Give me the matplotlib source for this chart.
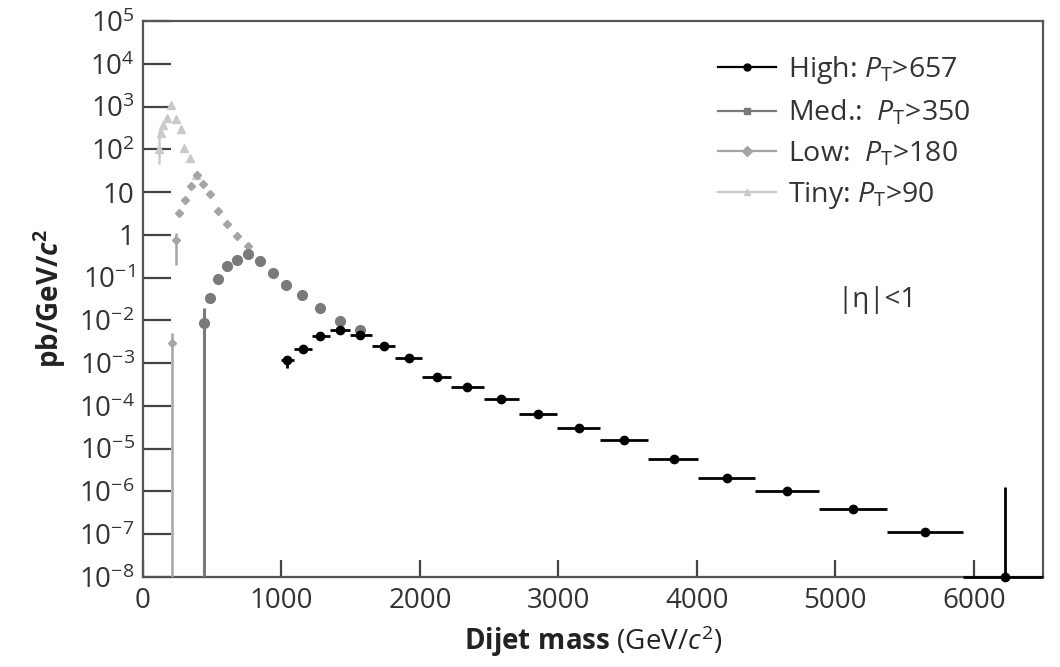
import matplotlib
matplotlib.use("Agg")
import matplotlib.pyplot as plt
from matplotlib.lines import Line2D
import numpy as np

plt.rcParams['font.family'] = ['Open Sans', 'DejaVu Sans']
plt.rcParams['mathtext.fontset'] = 'custom'
plt.rcParams['mathtext.rm'] = 'Open Sans'
plt.rcParams['mathtext.it'] = 'Open Sans:italic'
plt.rcParams['mathtext.bf'] = 'Open Sans:bold'
plt.rcParams['mathtext.bfit'] = 'Open Sans:italic:bold'

# ---- data ----
high_mass = [1040, 1155, 1281, 1421, 1570, 1739, 1920, 2125, 2342, 2588, 2853, 3150, 3471, 3832, 4219, 4650, 5127, 5646, 6225]
high_lo = [1000, 1090, 1220, 1350, 1498, 1654, 1823, 2016, 2228, 2462, 2715, 2993, 3299, 3645, 4010, 4423, 4879, 5374, 5919]
high_hi = [1090, 1220, 1350, 1498, 1654, 1823, 2016, 2228, 2462, 2715, 2993, 3299, 3645, 4010, 4423, 4879, 5374, 5919, 6500]
high_val = [1.2e-3, 2.2e-3, 4.4e-3, 6.0e-3, 4.6e-3, 2.5e-3, 1.35e-3, 4.8e-4, 2.7e-4, 1.45e-4, 6.5e-5, 3.0e-5, 1.6e-5,
            5.7e-6, 2.07e-6, 1.0e-6, 3.8e-7, 1.15e-7, 1.0e-8]
high_err_dn = [4.2e-4, 0, 0, 0, 0, 0, 0, 0, 0, 0, 0, 0, 0, 0, 0, 0, 0, 0, 0]
high_err_up = [3.0e-4, 0, 0, 0, 0, 0, 0, 0, 0, 0, 0, 0, 0, 0, 0, 0, 0, 0, 1.29e-6]

med_mass = [440, 485, 545, 605, 677, 755, 842, 936, 1036, 1150, 1281, 1421, 1570]
med_val = [8.6e-3, 0.034, 0.093, 0.19, 0.26, 0.36, 0.24, 0.13, 0.068, 0.040, 0.020, 0.0098, 0.0060]
med_err_dn = [8.6e-3 - 1e-10, 0.008, 0, 0, 0, 0, 0, 0, 0, 0, 0, 0, 0]
med_err_up = [0.011, 0, 0, 0, 0, 0, 0, 0, 0, 0, 0, 0, 0]

low_mass = [210, 239, 263, 304, 345, 388, 432, 485, 545, 610, 677, 755]
low_val = [3.0e-3, 0.76, 3.2, 6.6, 14, 25, 15.5, 9.0, 3.6, 1.8, 0.96, 0.56]
low_err_dn = [3.0e-3 - 1e-10, 0.56, 0, 0, 0, 0, 0, 0, 0, 0, 0, 0]
low_err_up = [2.0e-3, 0.34, 0, 0, 0, 0, 0, 0, 0, 0, 0, 0]

tiny_mass = [115, 128, 147, 171, 200, 239, 273, 299, 340, 383]
tiny_val = [100, 240, 370, 540, 1100, 510, 300, 106, 62, 25]
tiny_err_dn = [55, 0, 0, 0, 0, 0, 0, 0, 0, 0]
tiny_err_up = [190, 0, 0, 0, 0, 0, 0, 0, 0, 0]

labels = ["High: $P_\\mathrm{T}$>657", "Med.:  $P_\\mathrm{T}$>350",
          "Low:  $P_\\mathrm{T}$>180", "Tiny: $P_\\mathrm{T}$>90"]
colors = ["#000000", "#7a7a7a", "#a5a5a5", "#cacaca"]
markers = ["o", "s", "D", "^"]

xticks = [0, 1000, 2000, 3000, 4000, 5000, 6000]
yexps = list(range(-8, 6))

# ---- figure ----
fig = plt.figure(figsize=(10.6, 6.67), dpi=100)
ax = fig.add_axes([143 / 1060, 1 - 577 / 667, 900 / 1060, 556 / 667])
ax.set_yscale('log')

ax.errorbar(tiny_mass, tiny_val, yerr=[tiny_err_dn, tiny_err_up], fmt='^', color=colors[3],
            ms=6, elinewidth=1.8, capsize=0, zorder=2)
ax.errorbar(low_mass, low_val, yerr=[low_err_dn, low_err_up], fmt='D', color=colors[2],
            ms=4, elinewidth=1.8, capsize=0, zorder=3)
ax.errorbar(med_mass, med_val, yerr=[med_err_dn, med_err_up], fmt='o', color=colors[1],
            ms=7, elinewidth=2.2, capsize=0, zorder=4)
hx = np.array(high_mass, dtype=float)
xerr = [hx - np.array(high_lo), np.array(high_hi) - hx]
ax.errorbar(high_mass, high_val, xerr=xerr, yerr=[high_err_dn, high_err_up], fmt='o',
            color=colors[0], ms=6, elinewidth=2.0, capsize=0, zorder=5, clip_on=False)

ax.set_xlim(0, 6500)
ax.set_ylim(1e-8, 1e5)
ax.set_xticks(xticks)
ax.set_xticklabels([str(v) for v in xticks])
ax.set_yticks([10.0 ** e for e in yexps])
ylabs = []
for e in yexps:
    if e == 0:
        ylabs.append("1")
    elif e == 1:
        ylabs.append("10")
    else:
        ylabs.append("$10^{%d}$" % e)
ax.set_yticklabels(ylabs)
ax.minorticks_off()
ax.tick_params(axis='y', direction='in', length=20, width=1.6, color='#444444',
               labelsize=20, labelcolor='#333333', pad=6)
ax.tick_params(axis='x', direction='in', length=12, width=1.6, color='#444444',
               labelsize=20, labelcolor='#333333', pad=7)
for s in ax.spines.values():
    s.set_color('#555555')
    s.set_linewidth(1.6)

ax.set_xlabel(r"$\mathbf{Dijet\ mass}$ (GeV/$\mathit{c}^{2}$)", fontsize=20, color='#222222', labelpad=6)
ax.set_ylabel(r"$\mathbf{pb/GeV/}\boldsymbol{c}^{\mathbf{2}}$", fontsize=20, color='#222222', labelpad=8)

handles = [Line2D([], [], color=c, marker=m, lw=1.6, ms=5) for c, m in zip(colors, markers)]
ax.legend(handles, labels, loc='upper left', bbox_to_anchor=(0.639, 0.94), frameon=False,
          fontsize=20.5, handlelength=2.05, handletextpad=0.4, labelspacing=0.42,
          borderpad=0, borderaxespad=0, labelcolor='#333333')

ax.text(0.772, 0.498, "|η|<1", transform=ax.transAxes, fontsize=20, color='#333333',
        ha='left', va='center')

fig.savefig("out.png", dpi=100)
